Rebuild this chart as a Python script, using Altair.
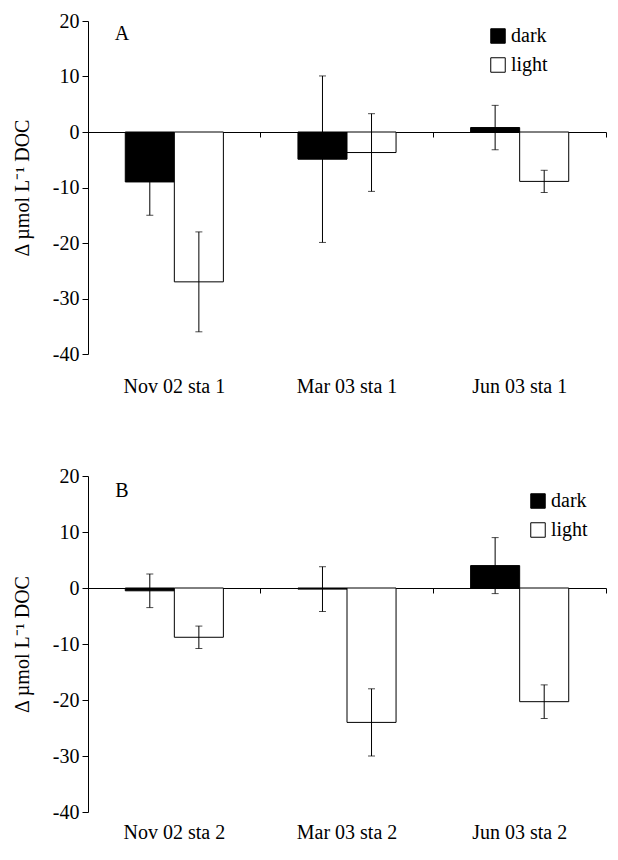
import altair as alt
import pandas as pd

# ---- data ----
categories_a = ["Nov 02 sta 1", "Mar 03 sta 1", "Jun 03 sta 1"]
categories_b = ["Nov 02 sta 2", "Mar 03 sta 2", "Jun 03 sta 2"]
treatments = ["dark", "light"]

dark_a = [-9.0, -4.9, 0.8]
dark_a_err = [6.0, 15.0, 4.0]
light_a = [-27.0, -3.7, -8.9]
light_a_err = [9.0, 7.0, 2.0]

dark_b = [-0.5, -0.2, 4.0]
dark_b_err = [3.0, 4.0, 5.0]
light_b = [-8.8, -24.0, -20.3]
light_b_err = [2.0, 6.0, 3.0]

y_ticks = [-40, -30, -20, -10, 0, 10, 20]
y_domain = [-40, 20]

FONT = "Liberation Serif"
FS = 20
W = 518
HYPHEN = "replace(datum.label, '\u2212', '-')"


def make_df(cats, dark, dark_err, light, light_err):
    rows = []
    for c, m, e in zip(cats, dark, dark_err):
        rows.append(dict(cat=c, trt="dark", mean=m, lo=m - e, hi=m + e))
    for c, m, e in zip(cats, light, light_err):
        rows.append(dict(cat=c, trt="light", mean=m, lo=m - e, hi=m + e))
    return pd.DataFrame(rows)


def panel(df, cats, letter, height, legend_x, legend_y, letter_y, label_pad):
    xscale = alt.Scale(paddingInner=0, paddingOuter=0)
    xoff = alt.XOffset("trt:N", sort=treatments,
                        scale=alt.Scale(paddingInner=0, paddingOuter=0.76))
    yscale = alt.Scale(domain=y_domain, nice=False, zero=False)

    x_labels = alt.X("cat:N", sort=cats, scale=xscale,
                     axis=alt.Axis(title=None, orient="bottom", domain=False,
                                   ticks=False, labelAngle=0, labelFontSize=FS,
                                   labelFont=FONT, labelPadding=label_pad,
                                   labelColor="black"))
    x_zero = alt.X("cat:N", sort=cats, scale=xscale,
                   axis=alt.Axis(title=None, orient="bottom",
                                 offset=-height * 40 / 60, labels=False,
                                 domain=True, ticks=True, bandPosition=1,
                                 tickSize=5, domainColor="black",
                                 tickColor="black", domainWidth=1,
                                 tickWidth=1))
    x_none = alt.X("cat:N", sort=cats, scale=xscale, axis=None)

    bars = alt.Chart(df).mark_bar(stroke="black", strokeWidth=1).encode(
        x=x_labels,
        xOffset=xoff,
        y=alt.Y("mean:Q", scale=yscale,
                axis=alt.Axis(values=y_ticks, title="Δ µmol L⁻¹ DOC",
                              labelExpr=HYPHEN)),
        fill=alt.Fill("trt:N",
                      scale=alt.Scale(domain=treatments, range=["black", "white"]),
                      legend=alt.Legend(title=None, orient="none",
                                        legendX=legend_x, legendY=legend_y,
                                        symbolType="square", symbolSize=210,
                                        symbolStrokeColor="black",
                                        symbolStrokeWidth=1,
                                        labelFont=FONT, labelFontSize=FS,
                                        labelColor="black", labelOffset=3,
                                        rowPadding=9)),
    )

    rules = alt.Chart(df).mark_rule(color="black", strokeWidth=1).encode(
        x=x_zero,
        xOffset=xoff,
        y=alt.Y("lo:Q", scale=yscale,
                axis=alt.Axis(values=y_ticks, labelExpr=HYPHEN)),
        y2="hi:Q",
    )
    caps_lo = alt.Chart(df).mark_tick(color="black", size=7, thickness=1).encode(
        x=x_none, xOffset=xoff,
        y=alt.Y("lo:Q", scale=yscale,
                axis=alt.Axis(values=y_ticks, labelExpr=HYPHEN)))
    caps_hi = alt.Chart(df).mark_tick(color="black", size=7, thickness=1).encode(
        x=x_none, xOffset=xoff,
        y=alt.Y("hi:Q", scale=yscale,
                axis=alt.Axis(values=y_ticks, labelExpr=HYPHEN)))

    label = alt.Chart(pd.DataFrame({"t": [letter]})).mark_text(
        font=FONT, fontSize=FS, color="black", align="center",
        baseline="middle").encode(
        text="t:N", x=alt.value(34), y=alt.value(letter_y))

    return alt.layer(bars, rules, caps_lo, caps_hi, label).resolve_axis(
        x="independent").properties(width=W, height=height)


df_a = make_df(categories_a, dark_a, dark_a_err, light_a, light_a_err)
df_b = make_df(categories_b, dark_b, dark_b_err, light_b, light_b_err)

pa = panel(df_a, categories_a, "A", 333, 400, 5, 13, 22)
pb = panel(df_b, categories_b, "B", 336, 440, 15, 15, 10)

chart = alt.vconcat(pa, pb, spacing=70).resolve_scale(
    fill="independent").resolve_legend(fill="independent").properties(
    padding={"left": 4, "top": 3, "right": 0, "bottom": 0}
).configure_view(stroke=None).configure_axisY(
    grid=False, tickSize=6, labelFontSize=FS, labelFont=FONT,
    labelColor="black", labelPadding=3, titleFont=FONT, titleFontSize=FS,
    titleFontWeight="normal", titleColor="black", titlePadding=20,
    domainColor="black", tickColor="black")

chart.save("out.html", embed_options={"renderer": "svg", "actions": False})
